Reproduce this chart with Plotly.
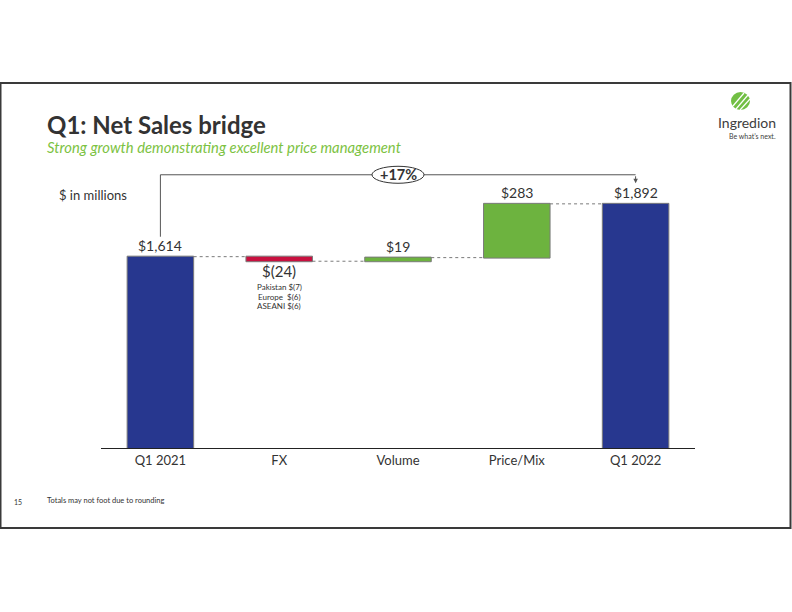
import plotly.graph_objects as go

# ---- data ----
categories = ["Q1 2021", "FX", "Volume", "Price/Mix", "Q1 2022"]
values = [1614, -24, 19, 283, 1892]
measures = ["absolute", "relative", "relative", "relative", "total"]
fx_notes = ["Pakistan $(7)", "Europe  $(6)", "ASEANI $(6)"]

title = "Q1: Net Sales bridge"
subtitle = "Strong growth demonstrating excellent price management"
unit_label = "$ in millions"
footnote = "Totals may not foot due to rounding"
page_no = "15"

# ---- style / layout ----
W, H = 792, 612
L, R, T, B = 101, 97, 150, 164
PW, PH = W - L - R, H - T - B
Y0 = 607
SCALE = 0.19  # px per unit
Y1 = Y0 + PH / SCALE

BLUE = "#27378f"
RED = "#c8103f"
GREEN = "#6db33f"
OUTLINE = "#7a7a7a"
TEXT = "#333333"
FONT = "Lato"


def px(x):
    return (x - L) / PW


def py(y):
    return (H - B - y) / PH


def fmt(v):
    return f"$({abs(v):,})" if v < 0 else f"${v:,}"


# running levels computed from data
levels = []
run = 0
for v, m in zip(values, measures):
    if m == "absolute":
        lo, hi = 0, v
        run = v
    elif m == "total":
        lo, hi = 0, run
    else:
        lo, hi = min(run, run + v), max(run, run + v)
        run += v
    levels.append((lo, hi))

fig = go.Figure(
    go.Waterfall(
        x=categories,
        y=[values[0], values[1], values[2], values[3], None],
        measure=measures,
        width=0.56,
        increasing=dict(marker=dict(color=GREEN, line=dict(color=OUTLINE, width=1))),
        decreasing=dict(marker=dict(color=RED, line=dict(color=OUTLINE, width=1))),
        totals=dict(marker=dict(color=BLUE, line=dict(color=OUTLINE, width=1))),
        connector=dict(mode="between", line=dict(color="#7a7a7a", width=1, dash="dot")),
        textinfo="none",
        hoverinfo="skip",
    )
)

annotations = []
# value labels
for i, (v, m) in enumerate(zip(values, measures)):
    lo, hi = levels[i]
    if v < 0 and m == "relative":
        annotations.append(dict(x=categories[i], y=lo, xref="x", yref="y", text=fmt(v),
                                showarrow=False, yanchor="top", yshift=1,
                                font=dict(family=FONT, size=15, color=TEXT)))
        for k, note in enumerate(fx_notes):
            annotations.append(dict(x=categories[i], y=lo, xref="x", yref="y", text=note,
                                    showarrow=False, yanchor="middle", yshift=-25.5 - 9.8 * k,
                                    font=dict(family=FONT, size=8, color=TEXT)))
    else:
        annotations.append(dict(x=categories[i], y=hi, xref="x", yref="y", text=fmt(v),
                                showarrow=False, yanchor="bottom", yshift=1,
                                font=dict(family=FONT, size=14, color=TEXT)))

# bracket
pct = (values[-1] / values[0] - 1) * 100
BR = values[0] + 431
annotations.append(dict(x=2, y=BR, xref="x", yref="y", text=f"<b>+{pct:.0f}%</b>",
                        showarrow=False, font=dict(family=FONT, size=14.5, color=TEXT)))
annotations.append(dict(x=4, y=values[-1] + 108, xref="x", yref="y", ax=4, ay=BR,
                        axref="x", ayref="y", text="", showarrow=True, arrowhead=2,
                        arrowsize=0.9, arrowwidth=1, arrowcolor="#555555"))

# titles and page texts
annotations += [
    dict(x=px(45), y=py(124), xref="paper", yref="paper", text=f"<b>{title}</b>",
         showarrow=False, xanchor="left", yanchor="middle",
         font=dict(family=FONT, size=24, color=TEXT)),
    dict(x=px(45), y=py(147), xref="paper", yref="paper", text=f"<i>{subtitle}</i>",
         showarrow=False, xanchor="left", yanchor="middle",
         font=dict(family=FONT, size=14.8, color="#7cc242")),
    dict(x=px(57), y=py(195), xref="paper", yref="paper", text=unit_label,
         showarrow=False, xanchor="left", yanchor="middle",
         font=dict(family=FONT, size=13, color=TEXT)),
    dict(x=px(45), y=py(500), xref="paper", yref="paper", text=footnote,
         showarrow=False, xanchor="left", yanchor="middle",
         font=dict(family=FONT, size=7.5, color=TEXT)),
    dict(x=px(18), y=py(502), xref="paper", yref="paper", text=page_no,
         showarrow=False, xanchor="center", yanchor="middle",
         font=dict(family=FONT, size=7, color=TEXT)),
    dict(x=px(778), y=py(123), xref="paper", yref="paper", text="Ingredion",
         showarrow=False, xanchor="right", yanchor="middle",
         font=dict(family=FONT, size=14, color="#3d3d3d")),
    dict(x=px(778), y=py(136), xref="paper", yref="paper", text="Be what\u2019s next.",
         showarrow=False, xanchor="right", yanchor="middle",
         font=dict(family=FONT, size=7, color="#3d3d3d")),
]

shapes = [
    # slide frame
    dict(type="rect", xref="paper", yref="paper", x0=px(0.5), x1=px(790.5),
         y0=py(83), y1=py(528), line=dict(color="#3a3a3a", width=2), layer="below"),
    # bracket lines
    dict(type="line", xref="x", yref="y", x0=0, x1=0, y0=values[0] + 105, y1=BR,
         line=dict(color="#555555", width=1)),
    dict(type="line", xref="x", yref="y", x0=0, x1=4, y0=BR, y1=BR,
         line=dict(color="#555555", width=1)),
    # ellipse around percentage
    dict(type="circle", xref="x", yref="y", xsizemode="pixel", ysizemode="pixel",
         xanchor=2, yanchor=BR, x0=-26, x1=26, y0=-8.5, y1=8.5,
         fillcolor="white", line=dict(color="#333333", width=1)),
    # logo mark
    dict(type="circle", xref="paper", yref="paper", x0=px(731), x1=px(750),
         y0=py(110), y1=py(92), fillcolor="#72bf44", line=dict(width=0)),
]
for (a, b, c, d) in [(736, 109, 748, 95), (740, 110, 750, 99), (733, 106, 744, 93)]:
    shapes.append(dict(type="line", xref="paper", yref="paper", x0=px(a), y0=py(b),
                       x1=px(c), y1=py(d), line=dict(color="white", width=1.2)))

fig.update_layout(
    width=W, height=H, autosize=False,
    margin=dict(l=L, r=R, t=T, b=B),
    paper_bgcolor="white", plot_bgcolor="white",
    showlegend=False,
    annotations=annotations,
    shapes=shapes,
    xaxis=dict(showline=True, linecolor="#222222", linewidth=1, ticks="",
               showgrid=False, zeroline=False, range=[-0.5, 4.5],
               tickfont=dict(family=FONT, size=13, color=TEXT)),
    yaxis=dict(visible=False, range=[Y0, Y1], showgrid=False, zeroline=False),
)

fig.write_html("out.html", post_script="document.body.style.margin='0';",
               config={"displayModeBar": False})
